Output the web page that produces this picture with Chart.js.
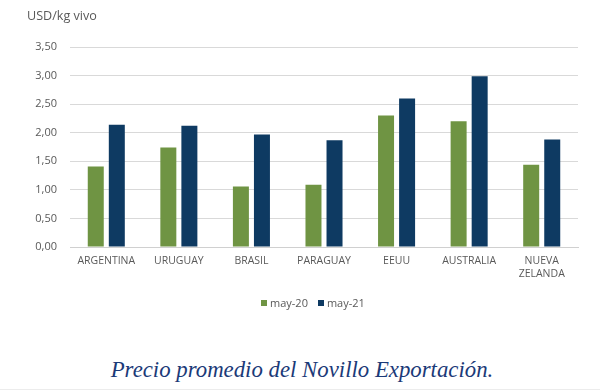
<!DOCTYPE html>
<html>
<head>
<meta charset="utf-8">
<script src="https://cdn.jsdelivr.net/npm/chart.js@4"></script>
<style>
  html, body { margin: 0; padding: 0; background: #fff; }
  #wrap { position: relative; width: 600px; height: 391px; overflow: hidden; background: #fff; }
  #chartBox { position: absolute; left: 0; top: 0; width: 600px; height: 300px; }
  #unit { position: absolute; left: 27px; top: 7px; font-family: "Open Sans", "Liberation Sans", sans-serif; font-size: 12.6px; color: #595959; }
  #legend { position: absolute; left: 261px; top: 294px; height: 17px; display: flex; align-items: center; font-family: "Open Sans", "Liberation Sans", sans-serif; font-size: 11px; color: #595959; white-space: nowrap; }
  #legend .item { display: flex; align-items: center; margin-right: 10px; }
  #legend .box { width: 6px; height: 6px; margin-right: 3px; }
  #caption { position: absolute; left: 2px; width: 600px; top: 357px; text-align: center; font-family: "Liberation Serif", serif; font-style: italic; font-size: 22.8px; color: #1b3a78; white-space: nowrap; }
  #rule { position: absolute; left: 0; top: 389px; width: 600px; height: 1px; background: #ececec; }
</style>
</head>
<body>
<div id="wrap">
  <div id="chartBox"><canvas id="c"></canvas></div>
  <div id="unit">USD/kg vivo</div>
  <div id="legend"></div>
  <div id="caption">Precio promedio del Novillo Exportación.</div>
  <div id="rule"></div>
</div>
<script>
const categories = ["ARGENTINA", "URUGUAY", "BRASIL", "PARAGUAY", "EEUU", "AUSTRALIA", ["NUEVA", "ZELANDA"]];
const seriesNames = ["may-20", "may-21"];
const may20 = [1.41, 1.74, 1.06, 1.09, 2.30, 2.20, 1.44];
const may21 = [2.14, 2.12, 1.97, 1.87, 2.60, 2.99, 1.88];
const yTicks = [0, 0.5, 1, 1.5, 2, 2.5, 3, 3.5];

const GREEN = "#6f9443";
const NAVY = "#0e3a62";
const TXT = "#595959";
const FONT = "'Open Sans', 'Liberation Sans', sans-serif";

const chart = new Chart(document.getElementById("c"), {
  type: "bar",
  data: {
    labels: categories,
    datasets: [
      { label: seriesNames[0], data: may20, backgroundColor: GREEN, categoryPercentage: 0.58, barPercentage: 0.76 },
      { label: seriesNames[1], data: may21, backgroundColor: NAVY, categoryPercentage: 0.58, barPercentage: 0.76 }
    ]
  },
  options: {
    responsive: true,
    maintainAspectRatio: false,
    animation: false,
    layout: { padding: { top: 47, right: 22, left: 0, bottom: 0 } },
    plugins: {
      legend: { display: false },
      tooltip: { enabled: false }
    },
    scales: {
      x: {
        afterFit: (axis) => { axis.height = 53; },
        grid: { display: false, drawTicks: false },
        border: { color: "#d0d0d0", width: 1 },
        ticks: { color: TXT, font: { family: FONT, size: 10.5 }, padding: 8, maxRotation: 0, autoSkip: false }
      },
      y: {
        min: 0, max: 3.5,
        afterBuildTicks: (axis) => { axis.ticks = yTicks.map(v => ({ value: v })); },
        afterFit: (axis) => { axis.width = 70; },
        grid: { color: "#d9d9d9", drawTicks: false },
        border: { display: false },
        ticks: {
          color: TXT, font: { family: FONT, size: 11 }, padding: 13,
          callback: (v) => Number(v).toFixed(2).replace(".", ",")
        }
      }
    }
  }
});

// HTML legend built from the chart's datasets
const legendEl = document.getElementById("legend");
chart.data.datasets.forEach((ds) => {
  const item = document.createElement("div");
  item.className = "item";
  const box = document.createElement("span");
  box.className = "box";
  box.style.background = ds.backgroundColor;
  const txt = document.createElement("span");
  txt.textContent = ds.label;
  item.appendChild(box);
  item.appendChild(txt);
  legendEl.appendChild(item);
});
</script>
</body>
</html>
